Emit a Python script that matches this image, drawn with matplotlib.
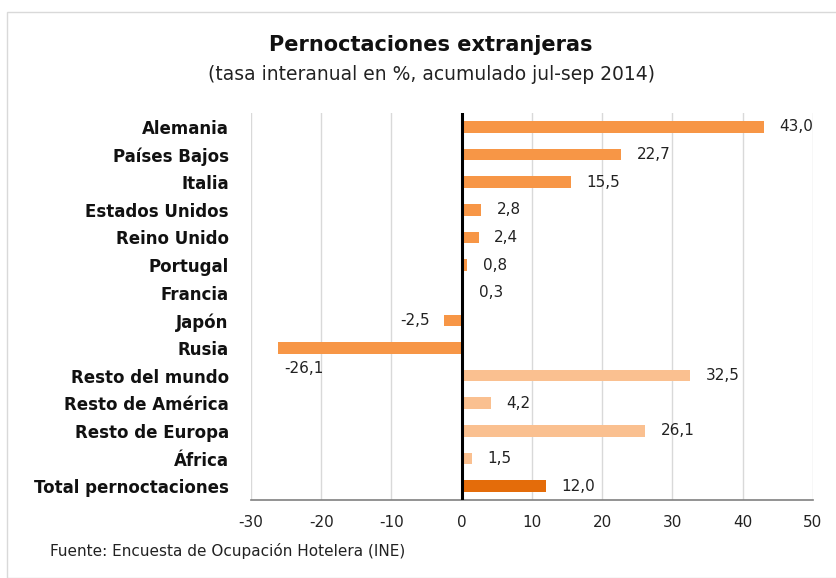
import numpy as np
import matplotlib.pyplot as plt
from matplotlib.patches import Rectangle

categorias = ["Alemania", "Países Bajos", "Italia", "Estados Unidos", "Reino Unido",
              "Portugal", "Francia", "Japón", "Rusia", "Resto del mundo",
              "Resto de América", "Resto de Europa", "África", "Total pernoctaciones"]
valores = [43.0, 22.7, 15.5, 2.8, 2.4, 0.8, 0.3, -2.5, -26.1, 32.5, 4.2, 26.1, 1.5, 12.0]
grupo = ["pais"] * 9 + ["resto"] * 4 + ["total"]

colores = {"pais": "#F79646", "resto": "#FAC090", "total": "#E46C0A"}

fig = plt.figure(figsize=(8.37, 5.78), dpi=100)
fig.patches.append(Rectangle((7/837, 0.0), 1.0, 1 - 12/578, transform=fig.transFigure,
                             fill=False, edgecolor="#D9D9D9", linewidth=1))
ax = fig.add_axes([251/837, 1 - 500/578, (813 - 251)/837, 387/578])

y = np.arange(len(categorias))
ax.barh(y, valores, height=0.42, color=[colores[g] for g in grupo], zorder=2)
ax.set_ylim(len(categorias) - 0.5, -0.5)
ax.set_xlim(-30, 50)
ax.set_xticks(np.arange(-30, 51, 10))
ax.set_xticklabels([str(t) for t in range(-30, 51, 10)], fontsize=11, color="#222222")
ax.set_yticks(y)
ax.set_yticklabels(categorias, fontsize=12, fontweight="bold", color="#111111")
ax.tick_params(length=0, axis="y", pad=16)
ax.tick_params(length=0, axis="x", pad=11)
ax.grid(axis="x", color="#D9D9D9", linewidth=1, zorder=0)
ax.axvline(0, color="black", linewidth=2.2, zorder=3)
for s in ["top", "right", "left"]:
    ax.spines[s].set_visible(False)
ax.spines["bottom"].set_color("#808080")
ax.spines["bottom"].set_linewidth(1.2)

for i, v in enumerate(valores):
    txt = ("%.1f" % v).replace(".", ",")
    if v >= 0:
        ax.annotate(txt, (v, i), xytext=(11, 0), textcoords="offset points",
                    ha="left", va="center", fontsize=11, color="#222222")
    elif v > -10:
        ax.annotate(txt, (v, i), xytext=(-10, 0), textcoords="offset points",
                    ha="right", va="center", fontsize=11, color="#222222")
    else:
        ax.annotate(txt, (v, i), xytext=(4, -15), textcoords="offset points",
                    ha="left", va="center", fontsize=11, color="#222222")

fig.text(431/837, 1 - 45/578, "Pernoctaciones extranjeras", ha="center", va="center",
         fontsize=15, fontweight="bold", color="#111111")
fig.text(431/837, 1 - 75/578, "(tasa interanual en %, acumulado jul-sep 2014)", ha="center",
         va="center", fontsize=13.5, color="#222222")
fig.text(50/837, 1 - 551/578, "Fuente: Encuesta de Ocupación Hotelera (INE)", ha="left",
         va="center", fontsize=11, color="#222222")

plt.savefig("out.png", dpi=100)
